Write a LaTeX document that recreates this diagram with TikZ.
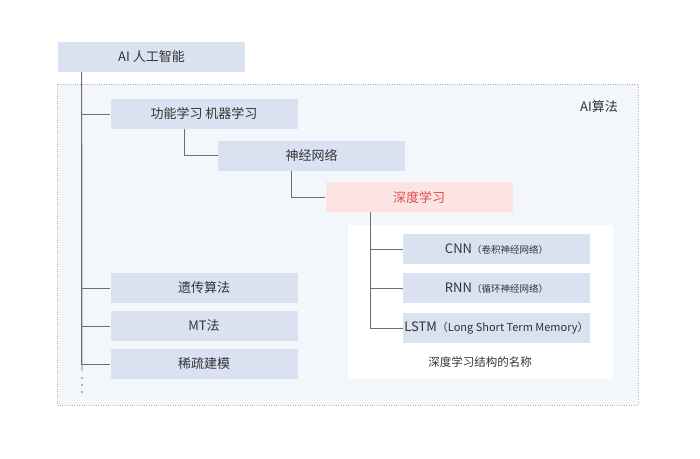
\documentclass[tikz,border=0pt]{standalone}
\usepackage{fontspec}
\setmainfont{Noto Sans CJK SC}
\usepackage{tikz}

\definecolor{boxblue}{HTML}{DAE2F1}
\definecolor{boxpink}{HTML}{FCE4E4}
\definecolor{areabg}{HTML}{F3F6FB}
\definecolor{txtgray}{HTML}{333333}
\definecolor{txtred}{HTML}{E04B4B}
\definecolor{linegray}{HTML}{6E6E6E}
\newcommand{\smalltxt}[2]{{\fontsize{#1}{#1}\selectfont #2}}

\begin{document}
\begin{tikzpicture}[x=1pt, y=-1pt,
		node_style/.style={rectangle,fill=boxblue,minimum width=187pt,minimum height=30pt,inner sep=0pt,text=txtgray,font=\fontsize{13}{15}\selectfont},
		node_style1/.style={node_style,fill=boxpink,text=txtred},
		edge_style/.style={draw=linegray,line width=0.8pt}]

		\useasboundingbox (0,0) rectangle (700,458);

		% background areas
		\draw[draw=black!30,fill=areabg,dotted] (57,84) rectangle (638,405);
		\fill[white] (348,225) rectangle (613,379);
		\node[text=txtgray,font=\fontsize{13}{15}\selectfont] (algo) at (599,107) {AI算法};

		\node[node_style] (n0) at (151.5,57)  {AI 人工智能};
		\node[node_style] (n1) at (204,114)  {功能学习 机器学习};
		\node[node_style] (n2) at (311.5,155.5)  {神经网络};
		\node[node_style1] (n3) at (419,197)  {深度学习};
		\node[node_style] (n4) at (496.5,249)  {CNN\smalltxt{9.5}{（卷积神经网络）}};
		\node[node_style] (n5) at (496.5,288)  {RNN\smalltxt{9.5}{（循环神经网络）}};
		\node[node_style] (n6) at (496.5,328)  {LSTM\smalltxt{11}{（Long Short Term Memory）}};
		\node[text=txtgray,font=\fontsize{11.5}{13}\selectfont] (cap) at (480,362) {深度学习结构的名称};
		\node[node_style] (n7) at (204,288)  {遗传算法};
		\node[node_style] (n8) at (204,326)  {MT法};
		\node[node_style] (n9) at (204,364)  {稀疏建模};

		\coordinate (trunk) at (82,371);

		\draw[edge_style]  ([xshift=24pt]n0.south west) -- (trunk);
		\draw[edge_style]  ([xshift=24pt]n0.south west) |- (n1.west);
		\draw[edge_style]  ([xshift=24pt]n0.south west) |- (n7.west);
		\draw[edge_style]  ([xshift=24pt]n0.south west) |- (n8.west);
		\draw[edge_style]  ([xshift=24pt]n0.south west) |- (n9.west);
		\draw[edge_style]  ([xshift=74pt]n1.south west) |- (n2.west);
		\draw[edge_style]  ([xshift=74pt]n2.south west) |- (n3.west);
		\draw[edge_style]  ([xshift=45pt]n3.south west) |- (n4.west);
		\draw[edge_style]  ([xshift=45pt]n3.south west) |- (n5.west);
		\draw[edge_style]  ([xshift=45pt]n3.south west) |- (n6.west);

		% continuation dots
		\foreach \y in {378,385,392}
			\fill[linegray] (82,\y) circle (0.9pt);

		\end{tikzpicture}
\end{document}
